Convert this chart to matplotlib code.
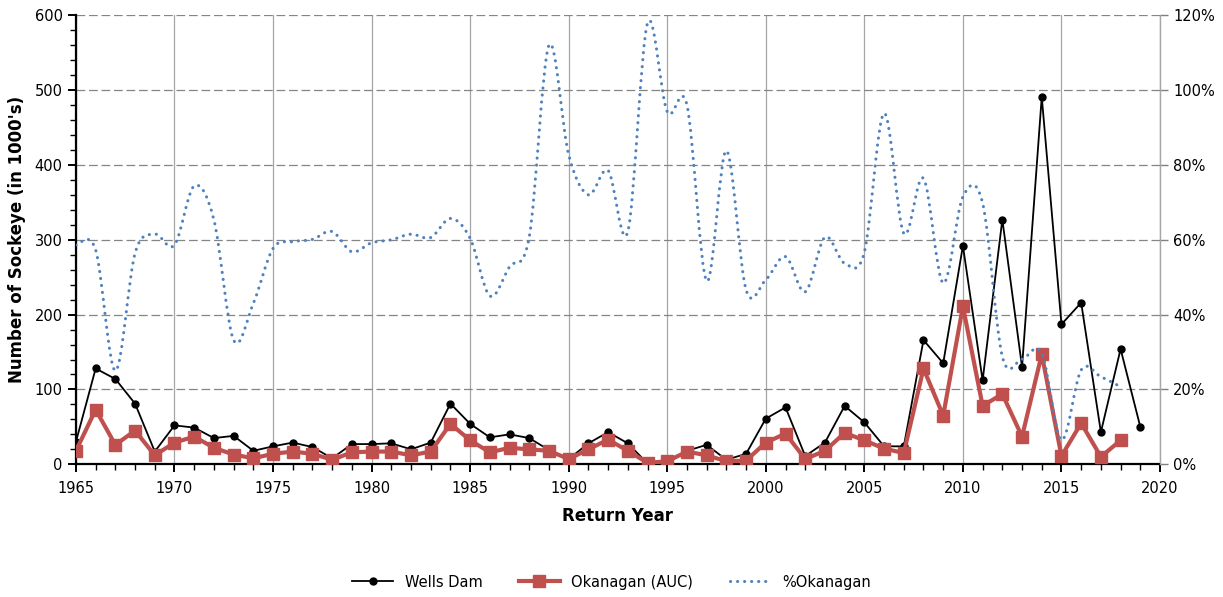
import numpy as np
import matplotlib
matplotlib.use('Agg')
import matplotlib.pyplot as plt
from matplotlib.path import Path
from matplotlib.patches import PathPatch
from matplotlib.lines import Line2D
from matplotlib.ticker import MultipleLocator, PercentFormatter

# return years
years = list(range(1965, 2020))

# Wells Dam counts (1000's), 1965-2019
wells = [30, 128, 114, 81, 17, 52, 49, 35, 38, 18,
         24, 29, 23, 8, 27, 27, 28, 20, 29, 81,
         54, 36, 40, 35, 19, 7, 28, 43, 28, 1,
         3, 18, 26, 6, 14, 61, 76, 11, 29, 78,
         56, 24, 24, 166, 135, 292, 112, 327, 130, 491,
         187, 216, 43, 154, 50]

# Okanagan AUC estimates (1000's), 1965-2018
okanagan = [18, 73, 26, 45, 12, 29, 37, 22, 13, 8,
            14, 17, 14, 6, 16, 17, 17, 12, 17, 54,
            32, 16, 22, 20, 18, 7, 20, 33, 18, 2,
            4, 17, 12, 4, 5, 29, 41, 7, 18, 42,
            32, 21, 15, 128, 65, 211, 78, 94, 37, 147,
            11, 55, 10, 32]

# percent of Wells Dam count that is Okanagan, 1965-2018
pct_okanagan = [58.6, 57.3, 25.0, 56.4, 61.5, 58.6, 74.4, 65.3, 33.2, 43.0,
                57.7, 59.5, 60.1, 62.2, 56.8, 59.2, 60.0, 61.5, 60.6, 65.7,
                60.4, 45.0, 52.8, 60.8, 112.0, 82.7, 72.0, 78.5, 62.2, 117.9,
                94.2, 96.0, 49.0, 83.8, 46.6, 49.3, 55.5, 46.1, 60.7, 53.7,
                56.7, 93.8, 61.7, 76.4, 48.4, 71.5, 69.8, 28.8, 28.1, 29.7,
                6.5, 25.2, 23.4, 20.7]

RED = '#C0504D'
BLUE = '#4F81BD'
DOTS = (0, (0.05, 2.25))


def smooth_path(xs, ys):
    # Excel-style smoothed line: cubic bezier through every data point
    xs = np.asarray(xs, float)
    ys = np.asarray(ys, float)
    pts = np.column_stack([xs, ys])
    n = len(pts)
    verts = [pts[0]]
    codes = [Path.MOVETO]
    for i in range(n - 1):
        p0 = pts[i - 1] if i > 0 else pts[i]
        p1 = pts[i]
        p2 = pts[i + 1]
        p3 = pts[i + 2] if i + 2 < n else pts[i + 1]
        c1 = p1 + (p2 - p0) / 6.0
        c2 = p2 - (p3 - p1) / 6.0
        verts += [c1, c2, p2]
        codes += [Path.CURVE4] * 3
    return Path(verts, codes)


fig = plt.figure(figsize=(12.23, 5.97), dpi=100)
ax = fig.add_axes([0.0621, 0.2223, 0.8864, 0.7521])

# primary axis: counts
ax.plot(years, wells, color='black', lw=1.3, marker='o', ms=5, zorder=3)
ax.plot(years[:len(okanagan)], okanagan, color=RED, lw=3, marker='s', ms=8,
        zorder=4)

ax.set_xlim(1965, 2020)
ax.set_ylim(0, 600)
ax.xaxis.set_major_locator(MultipleLocator(5))
ax.xaxis.set_minor_locator(MultipleLocator(1))
ax.yaxis.set_major_locator(MultipleLocator(100))
ax.yaxis.set_minor_locator(MultipleLocator(20))
ax.grid(axis='y', which='major', color='#858585', ls=(0, (7, 3)), lw=0.9)
ax.grid(axis='x', which='major', color='#A6A6A6', ls='-', lw=0.9)
ax.set_axisbelow(True)

for s in ['top', 'right']:
    ax.spines[s].set_visible(False)
ax.spines['left'].set_linewidth(1.6)
ax.spines['bottom'].set_linewidth(1.6)
ax.tick_params(axis='both', which='major', direction='out', length=6,
               width=1.4, labelsize=10.5)
ax.tick_params(axis='both', which='minor', direction='out', length=4,
               width=1.0)
ax.tick_params(axis='x', pad=6)

ax.set_xlabel('Return Year', fontsize=12, fontweight='bold', labelpad=8)
ax.set_ylabel("Number of Sockeye (in 1000's)", fontsize=12,
              fontweight='bold', labelpad=6)

# secondary axis: percent
ax2 = ax.twinx()
ax2.set_ylim(0, 120)
ax2.yaxis.set_major_locator(MultipleLocator(20))
ax2.yaxis.set_major_formatter(PercentFormatter(decimals=0))
for s in ['top', 'left', 'bottom']:
    ax2.spines[s].set_visible(False)
ax2.spines['right'].set_color('#A6A6A6')
ax2.spines['right'].set_linewidth(1.0)
ax2.tick_params(axis='y', direction='out', length=6, width=1.0,
                color='#808080', labelsize=10.5)

patch = PathPatch(smooth_path(years[:len(pct_okanagan)], pct_okanagan),
                  fill=False, edgecolor=BLUE, lw=2.2, ls=DOTS,
                  capstyle='round', zorder=5)
ax2.add_patch(patch)

handles = [
    Line2D([], [], color='black', lw=1.3, marker='o', ms=5),
    Line2D([], [], color=RED, lw=3, marker='s', ms=8),
    Line2D([], [], color=BLUE, lw=2.2, ls=DOTS, dash_capstyle='round'),
]
fig.legend(handles, ['Wells Dam', 'Okanagan (AUC)', '%Okanagan'],
           loc='center', bbox_to_anchor=(0.5, 0.025), ncol=3, frameon=False,
           fontsize=10.5, handlelength=2.8, columnspacing=2.5)

fig.savefig('out.png', dpi=100)
